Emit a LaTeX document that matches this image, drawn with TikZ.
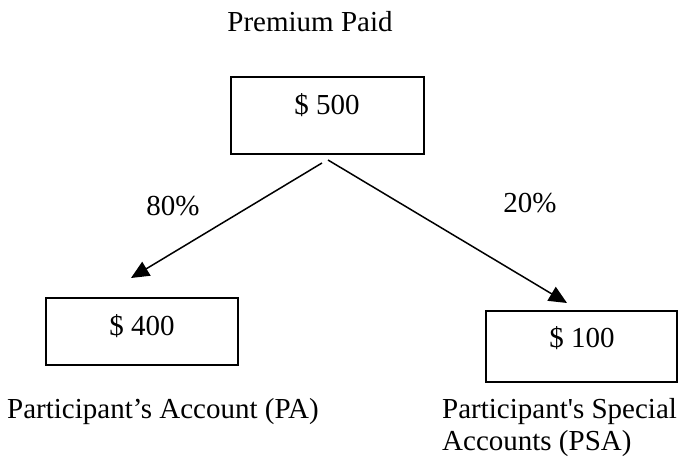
\documentclass[tikz,border=0pt]{standalone}
\usepackage{fontspec}
\newfontfamily\tnr{Liberation Serif}
\usetikzlibrary{arrows.meta}
\tikzset{
  txt/.style={inner sep=0pt, font=\tnr\fontsize{29}{33}\selectfont},
  boxline/.style={draw=black, line width=2pt},
  flow/.style={draw=black, line width=1.5pt, -{Triangle[length=18pt,width=16pt]}},
}
\begin{document}
\begin{tikzpicture}[x=1pt,y=-1pt]
\useasboundingbox (0,0) rectangle (681,457);
% boxes
\node[boxline, inner sep=0pt, minimum width=193pt, minimum height=77pt] (b500) at (327.5,115.5) {};
\node[boxline, inner sep=0pt, minimum width=192pt, minimum height=67pt] (b400) at (142,331.5) {};
\node[boxline, inner sep=0pt, minimum width=191pt, minimum height=71pt] (b100) at (581.5,346.5) {};
% texts
\node[txt, anchor=base] (t500) at (327,115) {\$ 500};
\node[txt, anchor=base] (t400) at (142,336) {\$ 400};
\node[txt, anchor=base] (t100) at (582,348) {\$ 100};
\node[txt, anchor=base] (title) at (310,32) {Premium Paid};
\node[txt, anchor=base] (p80) at (173,216) {80\%};
\node[txt, anchor=base] (p20) at (530,213) {20\%};
\node[txt, anchor=base west] (pa) at (7,419) {Participant’s Account (PA)};
\node[txt, anchor=base west] (psa1) at (442,419) {Participant's Special};
\node[txt, anchor=base west] (psa2) at (442,450) {Accounts (PSA)};
% connectors
\coordinate (sL) at (322,163);
\coordinate (sR) at (328,160);
\coordinate (eL) at (131,278);
\coordinate (eR) at (567,303);
\draw[flow] (sL) -- (eL);
\draw[flow] (sR) -- (eR);
\end{tikzpicture}
\end{document}
